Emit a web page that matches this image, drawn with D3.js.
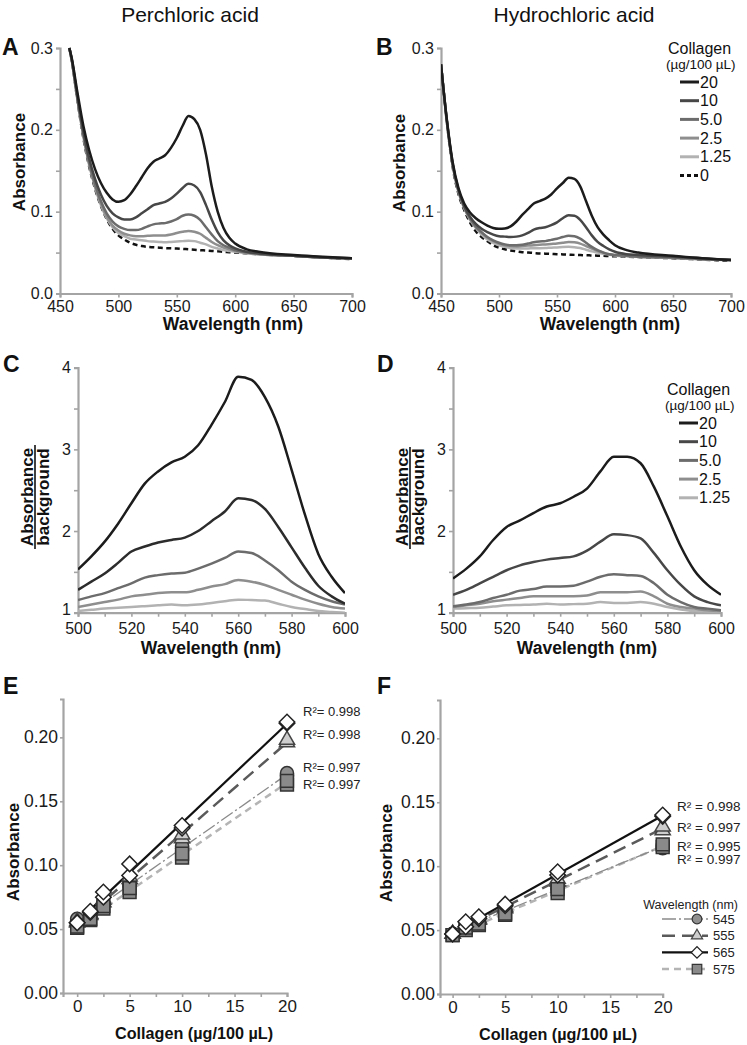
<!DOCTYPE html>
<html><head><meta charset="utf-8">
<script src="https://cdn.jsdelivr.net/npm/d3@7"></script>
<style>
body{margin:0;background:#fff;}
svg text{font-family:Arial,"Liberation Sans",Helvetica,sans-serif;}
</style></head><body>
<svg id="c" width="747" height="1045"></svg>
<script>
// ---------- DATA ----------
const concLabels = ["20","10","5.0","2.5","1.25","0"];

const wlA = [458,460,465,470,475,480,485,490,495,500,505,510,515,520,525,530,535,540,545,550,555,560,565,570,575,580,585,590,595,600,610,620,650,675,700];
const A20  = [0.300,0.288,0.245,0.205,0.175,0.152,0.135,0.123,0.115,0.112,0.114,0.121,0.131,0.142,0.153,0.161,0.165,0.169,0.178,0.190,0.205,0.217,0.213,0.200,0.170,0.130,0.100,0.080,0.068,0.061,0.054,0.051,0.047,0.045,0.043];
const A10  = [0.300,0.287,0.240,0.198,0.165,0.140,0.121,0.107,0.098,0.093,0.0905,0.0905,0.093,0.098,0.103,0.108,0.110,0.112,0.116,0.122,0.129,0.134,0.132,0.124,0.108,0.090,0.075,0.065,0.059,0.055,0.051,0.049,0.046,0.044,0.043];
const A5   = [0.300,0.286,0.238,0.195,0.160,0.134,0.113,0.098,0.088,0.082,0.079,0.0775,0.0775,0.079,0.082,0.0845,0.0855,0.086,0.088,0.091,0.095,0.0965,0.095,0.090,0.081,0.072,0.064,0.059,0.056,0.053,0.050,0.049,0.046,0.044,0.043];
const A25  = [0.300,0.286,0.237,0.193,0.158,0.131,0.110,0.094,0.083,0.077,0.073,0.071,0.070,0.070,0.0705,0.071,0.071,0.071,0.072,0.074,0.0755,0.0765,0.0755,0.073,0.068,0.063,0.059,0.056,0.054,0.052,0.050,0.048,0.046,0.044,0.043];
const A125 = [0.300,0.285,0.236,0.192,0.157,0.130,0.108,0.092,0.081,0.074,0.070,0.067,0.066,0.065,0.064,0.0635,0.063,0.0625,0.063,0.0635,0.064,0.0645,0.064,0.062,0.060,0.057,0.055,0.053,0.052,0.051,0.049,0.048,0.046,0.044,0.043];
const A0   = [0.300,0.285,0.235,0.190,0.155,0.128,0.107,0.091,0.079,0.071,0.066,0.062,0.0595,0.058,0.057,0.0565,0.056,0.0555,0.0552,0.055,0.0545,0.054,0.0535,0.053,0.0525,0.052,0.0515,0.051,0.0505,0.050,0.049,0.048,0.046,0.044,0.042];

const wlB = [450,455,460,465,470,475,480,485,490,495,500,505,510,515,520,525,530,535,540,545,550,555,560,565,570,575,580,585,590,595,600,610,620,650,675,700];
const B20  = [0.280,0.213,0.161,0.129,0.110,0.099,0.092,0.087,0.083,0.080,0.079,0.0795,0.082,0.088,0.096,0.103,0.110,0.113,0.116,0.121,0.1285,0.135,0.1415,0.140,0.131,0.113,0.095,0.081,0.072,0.065,0.059,0.053,0.050,0.046,0.043,0.041];
const B10  = [0.280,0.212,0.159,0.127,0.107,0.094,0.085,0.079,0.075,0.072,0.070,0.0695,0.069,0.0695,0.071,0.074,0.078,0.080,0.081,0.0835,0.087,0.092,0.0955,0.095,0.090,0.081,0.071,0.063,0.058,0.054,0.051,0.048,0.047,0.045,0.043,0.041];
const B5   = [0.280,0.211,0.158,0.126,0.106,0.092,0.082,0.075,0.069,0.065,0.062,0.060,0.059,0.059,0.0595,0.061,0.0625,0.0635,0.064,0.0655,0.067,0.069,0.0705,0.070,0.067,0.062,0.057,0.053,0.050,0.048,0.047,0.046,0.045,0.044,0.042,0.041];
const B25  = [0.280,0.211,0.158,0.125,0.105,0.091,0.081,0.074,0.068,0.064,0.061,0.059,0.058,0.0575,0.058,0.0585,0.059,0.0595,0.060,0.0605,0.061,0.062,0.063,0.0625,0.061,0.058,0.055,0.052,0.050,0.048,0.047,0.046,0.045,0.0435,0.042,0.041];
const B125 = [0.280,0.211,0.157,0.124,0.104,0.090,0.080,0.072,0.066,0.062,0.059,0.057,0.0555,0.055,0.055,0.055,0.0553,0.0553,0.0555,0.056,0.0563,0.0568,0.057,0.0565,0.0555,0.0535,0.0515,0.050,0.0485,0.0475,0.0465,0.0455,0.045,0.0435,0.042,0.041];
const B0   = [0.280,0.210,0.155,0.122,0.102,0.087,0.076,0.069,0.064,0.059,0.056,0.054,0.0525,0.0515,0.0505,0.050,0.0495,0.049,0.0487,0.0484,0.048,0.0478,0.0475,0.0472,0.047,0.0467,0.0465,0.0462,0.046,0.0457,0.0455,0.045,0.0445,0.043,0.0415,0.040];

const wlC = [500,505,510,515,520,525,530,535,540,545,550,555,560,565,570,575,580,585,590,595,600];
const C20  = [1.53,1.69,1.87,2.09,2.34,2.58,2.73,2.84,2.91,3.05,3.30,3.58,3.89,3.85,3.64,3.28,2.75,2.20,1.72,1.44,1.24];
const C10  = [1.28,1.38,1.48,1.61,1.75,1.81,1.86,1.89,1.92,2.00,2.12,2.24,2.40,2.38,2.27,2.05,1.80,1.55,1.33,1.20,1.11];
const C5   = [1.155,1.20,1.24,1.30,1.36,1.43,1.46,1.48,1.49,1.54,1.60,1.67,1.75,1.73,1.64,1.52,1.38,1.28,1.20,1.14,1.10];
const C25  = [1.07,1.10,1.13,1.16,1.20,1.22,1.24,1.25,1.25,1.28,1.32,1.35,1.40,1.38,1.34,1.28,1.22,1.16,1.11,1.07,1.05];
const C125 = [1.02,1.035,1.05,1.06,1.07,1.08,1.09,1.10,1.09,1.10,1.12,1.14,1.16,1.155,1.15,1.11,1.07,1.045,1.02,1.01,1.00];

const D20  = [1.42,1.54,1.69,1.89,2.05,2.13,2.22,2.30,2.34,2.42,2.52,2.73,2.91,2.91,2.83,2.54,2.18,1.81,1.52,1.34,1.22];
const D10  = [1.22,1.28,1.36,1.44,1.52,1.58,1.62,1.65,1.67,1.69,1.76,1.87,1.96,1.95,1.91,1.73,1.52,1.34,1.20,1.13,1.09];
const D5   = [1.08,1.10,1.13,1.18,1.22,1.27,1.29,1.32,1.32,1.33,1.38,1.44,1.47,1.46,1.45,1.36,1.22,1.13,1.07,1.05,1.03];
const D25  = [1.07,1.09,1.11,1.14,1.16,1.18,1.20,1.20,1.20,1.20,1.21,1.25,1.25,1.25,1.26,1.20,1.11,1.07,1.05,1.03,1.02];
const D125 = [1.05,1.055,1.06,1.075,1.09,1.095,1.10,1.11,1.10,1.105,1.11,1.13,1.12,1.12,1.13,1.11,1.07,1.04,1.02,1.015,1.01];

// calibration (two replicates per concentration)
const conc = [0,1.25,2.5,5,10,20];
const wavelengths = ["545","555","565","575"];
const E545a = [0.058,0.062,0.071,0.085,0.115,0.172], E545b = [0.057,0.061,0.069,0.083,0.113,0.170];
const E555a = [0.056,0.062,0.073,0.091,0.124,0.198], E555b = [0.055,0.061,0.071,0.089,0.121,0.196];
const E565a = [0.055,0.064,0.079,0.101,0.131,0.212], E565b = [0.055,0.063,0.075,0.092,0.129,0.211];
const E575a = [0.052,0.058,0.068,0.082,0.109,0.166], E575b = [0.051,0.057,0.066,0.079,0.106,0.163];
const F545a = [0.047,0.054,0.057,0.066,0.083,0.116], F545b = [0.047,0.053,0.056,0.065,0.082,0.114];
const F555a = [0.047,0.055,0.059,0.068,0.090,0.131], F555b = [0.047,0.053,0.058,0.067,0.088,0.128];
const F565a = [0.047,0.0565,0.0604,0.0703,0.0956,0.140], F565b = [0.047,0.0526,0.059,0.069,0.093,0.139];
const F575a = [0.046,0.052,0.055,0.063,0.082,0.117], F575b = [0.046,0.050,0.054,0.062,0.079,0.115];
const r2E = ["0.998","0.998","0.997","0.997"];
const r2F = ["0.998","0.997","0.995","0.997"];

// ---------- DRAWING ----------
const svg = d3.select("#c");
const AX = "#a4a4a4";
const FONT = "Arial, 'Liberation Sans', Helvetica, sans-serif";
const specColors = ["#1c1c1c","#474747","#6c6c6c","#8e8e8e","#b2b2b2","#111"];

function styleAxis(g, fs){
  g.attr("font-family", FONT).attr("font-size", fs);
  g.select(".domain").attr("stroke", AX).attr("stroke-width", 2.2);
  g.selectAll(".tick line").attr("stroke", AX).attr("stroke-width", 1.6);
  g.selectAll(".tick text").attr("fill", "#1a1a1a");
}
function txt(x, y, s, o){
  o = o || {};
  const t = svg.append("text").attr("x", x).attr("y", y).text(s)
    .attr("font-size", o.fs || 16).attr("font-weight", o.bold ? "bold" : "normal")
    .attr("text-anchor", o.anchor || "start").attr("dominant-baseline", "central").attr("fill", o.fill || "#111");
  if (o.rot) t.attr("transform", `rotate(-90,${x},${y})`);
  return t;
}
const near = (v, step) => Math.abs(v / step - Math.round(v / step)) < 1e-6;

function spectrum(o){
  const x = d3.scaleLinear().domain(o.xd).range(o.xr);
  const y = d3.scaleLinear().domain(o.yd).range(o.yr);
  const g = svg.append("g");
  const xa = g.append("g").attr("transform", `translate(0,${o.yr[0]})`)
    .call(d3.axisBottom(x).tickValues(o.xt).tickSizeOuter(0).tickSize(4).tickPadding(o.xpad || 3)
      .tickFormat(d => near(d, o.xlab) ? d : ""));
  styleAxis(xa, 16);
  const ya = g.append("g").attr("transform", `translate(${o.xr[0]},0)`)
    .call(d3.axisLeft(y).tickValues(o.yt).tickSizeOuter(0).tickSize(4).tickPadding(3)
      .tickFormat(d => near(d, o.ylab) ? o.yfmt(d) : ""));
  styleAxis(ya, 16);
  if (o.ydy) ya.selectAll(".tick text").filter(d => d === o.yd[0]).attr("dy", o.ydy);
  const clipId = "clip" + o.id;
  svg.append("clipPath").attr("id", clipId).append("rect")
    .attr("x", o.xr[0]).attr("y", o.yr[1] - 2).attr("width", o.xr[1] - o.xr[0]).attr("height", o.yr[0] - o.yr[1] + 2);
  const line = d3.line().x((d, i) => x(o.wl[i])).y(d => y(d)).curve(d3.curveMonotoneX);
  const order = o.series.map((s, i) => i).reverse();
  order.forEach(i => {
    const s = o.series[i];
    g.append("path").datum(s).attr("d", line).attr("fill", "none")
      .attr("clip-path", `url(#${clipId})`)
      .attr("stroke", o.colors[i]).attr("stroke-width", 2.5)
      .attr("stroke-dasharray", i === 5 ? "5,3.5" : null);
  });
}

function legendCollagen(x, y0, n){
  txt(x, y0, "Collagen", {fs: 16});
  txt(x - 2, y0 + 16, "(µg/100 µL)", {fs: 13.5});
  for (let i = 0; i < n; i++){
    const yy = y0 + 34 + i * 18.7;
    svg.append("line").attr("x1", x + 12).attr("x2", x + 31).attr("y1", yy).attr("y2", yy)
      .attr("stroke", specColors[i]).attr("stroke-width", 3)
      .attr("stroke-dasharray", i === 5 ? "4,3" : null);
    txt(x + 32, yy, concLabels[i], {fs: 16});
  }
}

// titles
txt(190, 14, "Perchloric acid", {fs: 21, anchor: "middle"});
txt(574, 14, "Hydrochloric acid", {fs: 21, anchor: "middle"});
// panel letters
[["A",2,47],["B",376,47],["C",3,364],["D",377,364],["E",3,686],["F",377,686]].forEach(p => txt(p[1], p[2], p[0], {fs: 23, bold: true}));

// Panel A
spectrum({id: "A", xd: [450, 700], xr: [60, 352], yd: [0, 0.3], yr: [293.5, 48], wl: wlA,
  xt: d3.range(450, 701, 50), xlab: 50, yt: d3.range(0, 0.3001, 0.05), ylab: 0.1, yfmt: d3.format(".1f"),
  series: [A20, A10, A5, A25, A125, A0], colors: specColors});
txt(233, 324, "Wavelength (nm)", {fs: 17.5, bold: true, anchor: "middle"});
txt(19, 162, "Absorbance", {fs: 17, bold: true, anchor: "middle", rot: true});

// Panel B
spectrum({id: "B", xd: [450, 700], xr: [441, 731], yd: [0, 0.3], yr: [293.5, 48], wl: wlB,
  xt: d3.range(450, 701, 50), xlab: 50, yt: d3.range(0, 0.3001, 0.05), ylab: 0.1, yfmt: d3.format(".1f"),
  series: [B20, B10, B5, B25, B125, B0], colors: specColors});
txt(610, 324, "Wavelength (nm)", {fs: 17.5, bold: true, anchor: "middle"});
txt(399, 163, "Absorbance", {fs: 17, bold: true, anchor: "middle", rot: true});
legendCollagen(668, 48, 6);

// Panel C
const colorsC = ["#1c1c1c","#2c2c2c","#6c6c6c","#8e8e8e","#b2b2b2"];
spectrum({id: "C", xd: [500, 600], xr: [78, 345], yd: [1, 4], yr: [612.7, 367.7], wl: wlC,
  xt: d3.range(500, 601, 10), xlab: 20, yt: d3.range(1, 4.001, 0.5), ylab: 1, yfmt: d3.format("d"),
  series: [C20, C10, C5, C25, C125], colors: colorsC, xpad: 6, ydy: "0.1em"});
txt(211, 648, "Wavelength (nm)", {fs: 17.5, bold: true, anchor: "middle"});
txt(27, 497, "Absorbance", {fs: 17, bold: true, anchor: "middle", rot: true});
txt(43, 497, "background", {fs: 17, bold: true, anchor: "middle", rot: true});
svg.append("line").attr("x1", 35).attr("x2", 35).attr("y1", 445).attr("y2", 549).attr("stroke", "#111").attr("stroke-width", 1.6);

// Panel D
spectrum({id: "D", xd: [500, 600], xr: [453, 721], yd: [1, 4], yr: [612.7, 367.7], wl: wlC,
  xt: d3.range(500, 601, 10), xlab: 20, yt: d3.range(1, 4.001, 0.5), ylab: 1, yfmt: d3.format("d"),
  series: [D20, D10, D5, D25, D125], colors: specColors, xpad: 6, ydy: "0.1em"});
txt(587, 648, "Wavelength (nm)", {fs: 17.5, bold: true, anchor: "middle"});
txt(402, 497, "Absorbance", {fs: 17, bold: true, anchor: "middle", rot: true});
txt(418, 497, "background", {fs: 17, bold: true, anchor: "middle", rot: true});
svg.append("line").attr("x1", 410).attr("x2", 410).attr("y1", 447).attr("y2", 549).attr("stroke", "#111").attr("stroke-width", 1.6);
legendCollagen(667, 389, 5);

// Calibration panels
const lineStyle = {
  "545": {stroke: "#8a8a8a", w: 1.3, dash: "14,3,2,3"},
  "555": {stroke: "#5a5a5a", w: 2.5, dash: "13,7"},
  "565": {stroke: "#111", w: 2.2, dash: null},
  "575": {stroke: "#b4b4b4", w: 2.5, dash: "7,5"}
};
const markStyle = {
  "545": {type: d3.symbolCircle, size: 135, fill: "#8f8f8f", stroke: "#333", rot: 0},
  "555": {type: d3.symbolTriangle, size: 100, fill: "#cdcdcd", stroke: "#444", rot: 0},
  "565": {type: d3.symbolSquare, size: 120, fill: "#fff", stroke: "#222", rot: 45},
  "575": {type: d3.symbolSquare, size: 165, fill: "#8a8a8a", stroke: "#333", rot: 0}
};
function fit(xs, ys){
  const mx = d3.mean(xs), my = d3.mean(ys);
  let sxy = 0, sxx = 0;
  xs.forEach((v, i) => { sxy += (v - mx) * (ys[i] - my); sxx += (v - mx) * (v - mx); });
  const b = sxy / sxx; return {b, a: my - b * mx};
}
function calib(o){
  const x = d3.scaleLinear().domain(o.xd).range(o.xr);
  const y = d3.scaleLinear().domain([0, 0.23]).range(o.yr);
  const g = svg.append("g");
  const xa = g.append("g").attr("transform", `translate(0,${o.yr[0]})`)
    .call(d3.axisBottom(x).tickValues(d3.range(0, 20.01, 2.5)).tickSizeOuter(0).tickSize(4).tickPadding(3)
      .tickFormat(d => near(d, 5) ? d : ""));
  styleAxis(xa, 17);
  const ya = g.append("g").attr("transform", `translate(${o.xr[0]},0)`)
    .call(d3.axisLeft(y).tickValues(d3.range(0, 0.2001, 0.05)).tickSizeOuter(0).tickSize(3).tickPadding(2)
      .tickFormat(d3.format(".2f")));
  styleAxis(ya, 17.5);
  const data = {};
  wavelengths.forEach((w, k) => { data[w] = o.series[k]; });
  ["575", "545", "555", "565"].forEach(w => {
    const s = data[w];
    const xs = conc.concat(conc), ys = s[0].concat(s[1]);
    const f = fit(xs, ys);
    const st = lineStyle[w];
    g.append("line").attr("x1", x(0)).attr("x2", x(20)).attr("y1", y(f.a)).attr("y2", y(f.a + f.b * 20))
      .attr("stroke", st.stroke).attr("stroke-width", st.w).attr("stroke-dasharray", st.dash);
  });
  ["545", "555", "575", "565"].forEach(w => {
    const s = data[w], ms = markStyle[w];
    const pts = [];
    conc.forEach((c, i) => { pts.push([c, s[1][i]]); pts.push([c, s[0][i]]); });
    g.selectAll(null).data(pts).enter().append("path")
      .attr("d", d3.symbol().type(ms.type).size(ms.size)())
      .attr("transform", d => `translate(${x(d[0])},${y(d[1])}) rotate(${ms.rot})`)
      .attr("fill", ms.fill).attr("stroke", ms.stroke).attr("stroke-width", 1.5);
  });
  return {x, y};
}

const sE = calib({xd: [-1.35, 20], xr: [63, 287], yr: [993, 699],
  series: [[E545a, E545b], [E555a, E555b], [E565a, E565b], [E575a, E575b]]});
txt(194, 1033, "Collagen (µg/100 µL)", {fs: 16.2, bold: true, anchor: "middle"});
txt(13, 852, "Absorbance", {fs: 17, bold: true, anchor: "middle", rot: true});
// R² labels (top→bottom)
[0.2199, 0.2019, 0.1768, 0.1628].forEach((v, i) => {
  txt(303, sE.y(v), "R²= " + r2E[i], {fs: 13, fill: "#222"});
});

const sF = calib({xd: [-1.2, 20], xr: [440, 662.7], yr: [994, 700],
  series: [[F545a, F545b], [F555a, F555b], [F565a, F565b], [F575a, F575b]]});
txt(558, 1034, "Collagen (µg/100 µL)", {fs: 16.2, bold: true, anchor: "middle"});
txt(386, 853, "Absorbance", {fs: 17, bold: true, anchor: "middle", rot: true});
[0.1467, 0.1300, 0.1152, 0.1050].forEach((v, i) => {
  txt(677, sF.y(v), "R² = " + r2F[i], {fs: 13.5, fill: "#222"});
});

// Legend F
txt(738, 905, "Wavelength (nm)", {fs: 12.5, anchor: "end", fill: "#222"});
wavelengths.forEach((w, i) => {
  const yy = 919 + i * 16.7, st = lineStyle[w], ms = markStyle[w];
  svg.append("line").attr("x1", 662).attr("x2", 708).attr("y1", yy).attr("y2", yy)
    .attr("stroke", st.stroke).attr("stroke-width", st.w).attr("stroke-dasharray", st.dash);
  svg.append("path").attr("d", d3.symbol().type(ms.type).size(ms.size * 0.55)())
    .attr("transform", `translate(697,${yy}) rotate(${ms.rot})`)
    .attr("fill", ms.fill).attr("stroke", ms.stroke).attr("stroke-width", 1.2);
  txt(713, yy, w, {fs: 13, fill: "#222"});
});
</script>
</body></html>
